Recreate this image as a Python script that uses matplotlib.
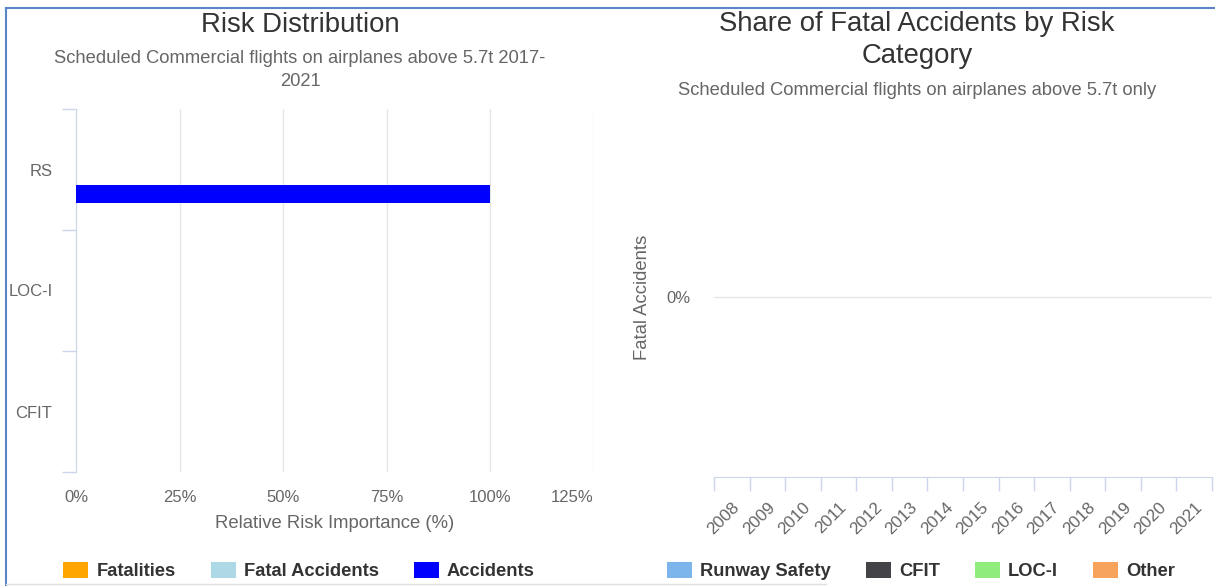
import numpy as np
import matplotlib.pyplot as plt
from matplotlib.lines import Line2D

plt.rcParams['font.family'] = ['Liberation Sans', 'DejaVu Sans']

# --- left chart data (relative risk importance, %) ---
risk_cats = ['RS', 'LOC-I', 'CFIT']
fatalities = [0, 0, 0]
fatal_accidents = [0, 0, 0]
accidents = [100, 0, 0]
risk_ticks = [0, 25, 50, 75, 100, 125]

# --- right chart data (share of fatal accidents, no data in period) ---
years = ['2008', '2009', '2010', '2011', '2012', '2013', '2014',
         '2015', '2016', '2017', '2018', '2019', '2020', '2021']
runway_safety = [0, 0, 0, 0, 0, 0, 0, 0, 0, 0, 0, 0, 0, 0]
cfit = [0, 0, 0, 0, 0, 0, 0, 0, 0, 0, 0, 0, 0, 0]
loc_i = [0, 0, 0, 0, 0, 0, 0, 0, 0, 0, 0, 0, 0, 0]
other = [0, 0, 0, 0, 0, 0, 0, 0, 0, 0, 0, 0, 0, 0]

AXIS_COL = '#ccd6eb'
GRID_COL = '#e6e6e6'
LABEL_COL = '#666666'
TITLE_COL = '#333333'

W, H = 1215, 586
fig = plt.figure(figsize=(W / 100, H / 100), dpi=100, facecolor='white')

def fx(px):
    return px / W

def fy(py):
    return 1 - py / H

# ================= left: Risk Distribution =================
ax1 = fig.add_axes([fx(76), fy(472), fx(594) - fx(76), fy(109) - fy(472)])
y = np.arange(len(risk_cats))
series = [(fatalities, 'Fatalities', '#FFA500'),
          (fatal_accidents, 'Fatal Accidents', '#ADD8E6'),
          (accidents, 'Accidents', '#0000FF')]
for i, (vals, name, col) in enumerate(series):
    ax1.barh(y + (i - 1) * 0.2, vals, height=0.15, color=col, label=name,
             linewidth=0, zorder=3)

ax1.set_xlim(0, 125)
ax1.set_ylim(2.5, -0.5)
ax1.set_xticks(risk_ticks)
ax1.set_xticklabels([f'{t}%' for t in risk_ticks])
ax1.get_xticklabels()[-1].set_horizontalalignment('right')
ax1.xaxis.grid(True, color=GRID_COL, linewidth=1)
ax1.set_axisbelow(True)
ax1.tick_params(axis='x', length=0, pad=13, labelsize=12, labelcolor=LABEL_COL)

ax1.set_yticks([-0.5, 0.5, 1.5, 2.5])
ax1.set_yticklabels([])
ax1.set_yticks(y, minor=True)
ax1.set_yticklabels(risk_cats, minor=True)
ax1.tick_params(axis='y', which='major', length=10, width=1, color=AXIS_COL)
ax1.tick_params(axis='y', which='minor', length=0, pad=17, labelsize=12,
                labelcolor=LABEL_COL)
for s in ['top', 'right', 'bottom']:
    ax1.spines[s].set_visible(False)
ax1.spines['left'].set_color(AXIS_COL)
ax1.set_xlabel('Relative Risk Importance (%)', fontsize=13.3, color=LABEL_COL,
               labelpad=7)

fig.text(fx(300), fy(25), 'Risk Distribution', ha='center', va='center',
         fontsize=19.8, color=TITLE_COL)
fig.text(fx(300), fy(70), 'Scheduled Commercial flights on airplanes above 5.7t 2017-\n2021',
         ha='center', va='center', fontsize=13.2, color=LABEL_COL, linespacing=1.45)

h1, l1 = ax1.get_legend_handles_labels()
fig.legend(h1, l1, loc='center', bbox_to_anchor=(fx(299), fy(571)), ncol=3,
           frameon=False, prop={'weight': 'bold', 'size': 13.2},
           labelcolor=TITLE_COL, handlelength=1.37, handleheight=1.0,
           handletextpad=0.44, columnspacing=1.9, borderpad=0)

# ================= right: Share of Fatal Accidents =================
ax2 = fig.add_axes([fx(714), fy(477), fx(1212) - fx(714), fy(117) - fy(477)])
x = np.arange(len(years))
bottom = np.zeros(len(years))
for vals, name, col in [(runway_safety, 'Runway Safety', '#7cb5ec'),
                        (cfit, 'CFIT', '#434348'),
                        (loc_i, 'LOC-I', '#90ed7d'),
                        (other, 'Other', '#f7a35c')]:
    ax2.bar(x, vals, bottom=bottom, width=0.8, color=col, label=name, linewidth=0)
    bottom = bottom + np.array(vals)

ax2.set_xlim(-0.5, len(years) - 0.5)
ax2.set_ylim(-1, 1)
ax2.set_yticks([0])
ax2.set_yticklabels(['0%'])
ax2.yaxis.grid(True, color=GRID_COL, linewidth=1)
ax2.tick_params(axis='y', length=0, pad=17, labelsize=12, labelcolor=LABEL_COL)
ax2.set_ylabel('Fatal Accidents', fontsize=13.3, color=LABEL_COL, labelpad=11)

ax2.set_xticks(np.arange(-0.5, len(years), 1))
ax2.set_xticklabels([])
ax2.set_xticks(x, minor=True)
ax2.set_xticklabels(years, minor=True)
ax2.tick_params(axis='x', which='major', length=10, width=1, color=AXIS_COL)
ax2.tick_params(axis='x', which='minor', length=0, pad=16, labelsize=12.3,
                labelcolor=LABEL_COL)
plt.setp(ax2.get_xticklabels(minor=True), rotation=45, ha='right', va='top',
         rotation_mode='anchor')
for s in ['top', 'right', 'left']:
    ax2.spines[s].set_visible(False)
ax2.spines['bottom'].set_color(AXIS_COL)

fig.text(fx(917), fy(40), 'Share of Fatal Accidents by Risk\nCategory', ha='center',
         va='center', fontsize=19.8, color=TITLE_COL, linespacing=1.3)
fig.text(fx(917), fy(90), 'Scheduled Commercial flights on airplanes above 5.7t only',
         ha='center', va='center', fontsize=13.2, color=LABEL_COL)

h2, l2 = ax2.get_legend_handles_labels()
fig.legend(h2, l2, loc='center', bbox_to_anchor=(fx(921), fy(571)), ncol=4,
           frameon=False, prop={'weight': 'bold', 'size': 13.2},
           labelcolor=TITLE_COL, handlelength=1.37, handleheight=1.0,
           handletextpad=0.44, columnspacing=1.9, borderpad=0)

# frame lines of the screenshot
fig.add_artist(Line2D([fx(6), fx(6)], [0, fy(8)], transform=fig.transFigure,
                      color='#5b86c5', linewidth=1.5))
fig.add_artist(Line2D([fx(6), 1], [fy(8), fy(8)], transform=fig.transFigure,
                      color='#5b86c5', linewidth=1.5))
fig.add_artist(Line2D([fx(6), fx(826)], [fy(584), fy(584)], transform=fig.transFigure,
                      color='#e0e0e0', linewidth=1))

fig.savefig('out.png', dpi=100, facecolor='white')
